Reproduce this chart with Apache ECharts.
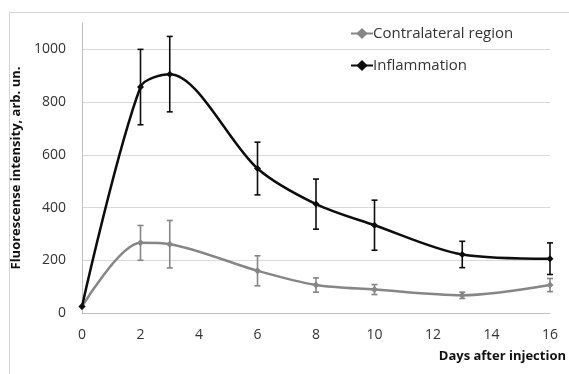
<!DOCTYPE html>
<html>
<head>
<meta charset="utf-8">
<script src="https://cdn.jsdelivr.net/npm/echarts@6/dist/echarts.min.js"></script>
<style>
  html, body { margin: 0; padding: 0; background: #fff; }
  #chart { width: 569px; height: 374px; }
</style>
</head>
<body>
<div id="chart"></div>
<script>
// 数据
const days = [0, 2, 3, 6, 8, 10, 13, 16];
const contralateral = [25, 266, 261, 160, 106, 89, 67, 106];
const contralateralErr = [0, 66, 90, 57, 27, 19, 12, 25];
const inflammation = [25, 857, 906, 548, 413, 333, 222, 206];
const inflammationErr = [0, 143, 143, 100, 95, 95, 50, 60];
const yTicks = [0, 200, 400, 600, 800, 1000];

const font = "'Open Sans', sans-serif";
const grey = "#868686";
const black = "#0d0d0d";

function pairs(vals) {
  return days.map((d, i) => [d, vals[i]]);
}
function errData(vals, errs) {
  return days.map((d, i) => [d, vals[i] - errs[i], vals[i] + errs[i]]);
}

// 误差线
function errorBar(color) {
  return function (params, api) {
    const x = api.value(0);
    const lo = api.coord([x, api.value(1)]);
    const hi = api.coord([x, api.value(2)]);
    if (hi[1] === lo[1]) return null;
    const w = 3;
    const style = { stroke: color, lineWidth: 1.6 };
    return {
      type: "group",
      children: [
        { type: "line", shape: { x1: lo[0], y1: lo[1], x2: hi[0], y2: hi[1] }, style },
        { type: "line", shape: { x1: hi[0] - w, y1: hi[1], x2: hi[0] + w, y2: hi[1] }, style },
        { type: "line", shape: { x1: lo[0] - w, y1: lo[1], x2: lo[0] + w, y2: lo[1] }, style },
      ],
    };
  };
}

const options = {
  animation: false,
  textStyle: { fontFamily: font },
  grid: {
    left: 82,
    right: 14,
    top: 23,
    bottom: 61,
  },
  graphic: [
    // 外框
    { type: "line", shape: { x1: 9, y1: 12.5, x2: 569, y2: 12.5 }, style: { stroke: "#d4d4d4", lineWidth: 1 } },
    { type: "line", shape: { x1: 9.5, y1: 12, x2: 9.5, y2: 374 }, style: { stroke: "#d4d4d4", lineWidth: 1 } },
  ],
  legend: {
    orient: "vertical",
    left: 345,
    top: 21,
    itemWidth: 22,
    itemHeight: 14,
    itemGap: 17,
    data: ["Contralateral region", "Inflammation"],
    textStyle: { fontFamily: font, fontSize: 15, color: "#333", padding: [0, 0, 0, -5] },
  },
  xAxis: {
    type: "value",
    min: 0,
    max: 16,
    interval: 2,
    name: "Days after injection",
    nameLocation: "end",
    nameGap: 16,
    nameTextStyle: {
      fontFamily: font,
      fontSize: 13,
      fontWeight: "bold",
      color: "#111",
      align: "right",
      verticalAlign: "top",
      padding: [37, 0, 0, 0],
    },
    axisLine: { show: true, lineStyle: { color: "#bfbfbf", width: 1 } },
    axisTick: { show: false },
    splitLine: { show: false },
    axisLabel: { fontFamily: font, fontSize: 14, color: "#333", margin: 15 },
  },
  yAxis: {
    type: "value",
    min: 0,
    max: 1100,
    interval: 200,
    name: "Fluorescense intensity, arb. un.",
    nameLocation: "middle",
    nameGap: 56,
    nameTextStyle: { fontFamily: font, fontSize: 13, fontWeight: "bold", color: "#111" },
    axisLine: { show: true, lineStyle: { color: "#bfbfbf", width: 1 } },
    axisTick: { show: false },
    splitLine: { show: true, showMaxLine: false, lineStyle: { color: "#d9d9d9", width: 1 } },
    axisLabel: {
      fontFamily: font,
      fontSize: 14,
      color: "#333",
      margin: 16,
      showMaxLabel: false,
      formatter: (v) => (yTicks.includes(v) ? String(v) : ""),
    },
  },
  series: [
    {
      name: "Contralateral region",
      type: "line",
      smooth: 0.3,
      symbol: "diamond",
      symbolSize: 7,
      data: pairs(contralateral),
      itemStyle: { color: grey },
      lineStyle: { color: grey, width: 2.5 },
      z: 3,
    },
    {
      name: "Inflammation",
      type: "line",
      smooth: 0.3,
      symbol: "diamond",
      symbolSize: 7,
      data: pairs(inflammation),
      itemStyle: { color: black },
      lineStyle: { color: black, width: 2.5 },
      z: 4,
    },
    {
      name: "contraErr",
      type: "custom",
      renderItem: errorBar(grey),
      data: errData(contralateral, contralateralErr),
      encode: { x: 0, y: [1, 2] },
      z: 2,
    },
    {
      name: "inflamErr",
      type: "custom",
      renderItem: errorBar(black),
      data: errData(inflammation, inflammationErr),
      encode: { x: 0, y: [1, 2] },
      z: 2,
    },
  ],
};

const chart = echarts.init(document.getElementById("chart"));
chart.setOption(options);
window.addEventListener("resize", () => {
  chart.resize();
});
</script>
</body>
</html>
